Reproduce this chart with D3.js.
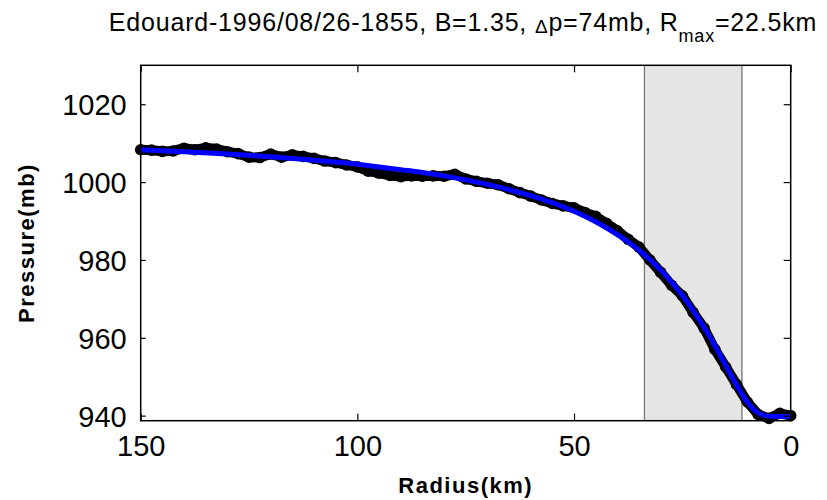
<!DOCTYPE html>
<html>
<head>
    <meta charset="utf-8" />
    <title></title>
    <script src="https://cdn.jsdelivr.net/npm/d3@7"></script>
    <style>
        body { margin: 0; background: #fff; }
        svg text { font-family: "Liberation Sans", Arial, sans-serif; fill: #000; }
    </style>
</head>
<body>
    <svg width="827" height="500"></svg>
    <script>
        var obsRadius = [150, 147.5, 145, 142.5, 140, 137.5, 135, 132.5, 130, 127.5,
            125, 122.5, 120, 117.5, 115, 112.5, 110, 107.5, 105, 102.5,
            100, 97.5, 95, 92.5, 90, 87.5, 85, 82.5, 80, 77.5,
            75, 72.5, 70, 67.5, 65, 62.5, 60, 57.5, 55, 52.5,
            50, 47.5, 45, 42.5, 40, 37.5, 35, 32.5, 30, 27.5,
            25, 22.5, 20, 17.5, 15, 12.5, 10, 7.5, 5, 2.5, 0];
        var obsPressure = [1008.3, 1008.2, 1007.9, 1008.0, 1008.7, 1008.3, 1008.8, 1008.5, 1007.8, 1007.3,
            1006.4, 1006.3, 1007.2, 1006.4, 1007.0, 1006.6, 1006.1, 1005.4, 1005.0, 1004.4,
            1003.9, 1002.8, 1002.3, 1001.7, 1001.4, 1001.6, 1001.5, 1001.6, 1001.5, 1002.0,
            1000.8, 1000.2, 999.7, 999.3, 998.3, 997.3, 996.4, 995.4, 994.5, 993.9,
            993.4, 992.2, 991.2, 989.4, 987.5, 985.3, 983.3, 980.0, 976.8, 973.5,
            970.8, 966.5, 962.5, 957.0, 952.5, 948.0, 943.5, 940.3, 939.3, 940.6, 940.0];

        // fitted profile (blue)
        var fitRadius = [150, 140, 130, 120, 110, 100, 90, 80, 70, 60,
            50, 45, 40, 35, 30, 25, 22.5, 20, 17.5, 15, 12.5, 10, 8, 6, 4, 0];
        var fitPressure = [1008.3, 1007.8, 1007.2, 1006.5, 1005.6, 1004.6, 1003.2, 1001.6, 999.4, 996.5,
            992.5, 989.8, 986.5, 982.5, 977.4, 970.9, 967.0, 962.7, 958.0, 952.9, 947.9, 943.5, 941.1, 940.0, 939.8, 939.8];

        var shadeBand = [33.75, 11.25];
        var xTicks = [150, 100, 50, 0];
        var yTicks = [940, 960, 980, 1000, 1020];

        var mLeft = 140.7, mRight = 790.7, mTop = 65.3, mBottom = 420.7;
        var svg = d3.select('svg');

        var x = d3.scaleLinear().domain([150, 0]).range([mLeft, mRight]);
        var y = d3.scaleLinear().domain([938.7, 1030]).range([mBottom, mTop]);

        // shaded Rmax band
        svg.append('rect')
            .attr('x', x(shadeBand[0]))
            .attr('y', mTop)
            .attr('width', x(shadeBand[1]) - x(shadeBand[0]))
            .attr('height', mBottom - mTop)
            .attr('fill', '#e5e5e5');
        shadeBand.forEach(function (d) {
            svg.append('line')
                .attr('x1', x(d)).attr('x2', x(d))
                .attr('y1', mTop).attr('y2', mBottom)
                .attr('stroke', '#777').attr('stroke-width', 1.3);
        });

        // observed data
        var obs = obsRadius.map(function (r, i) { return [r, obsPressure[i]]; });
        var line = d3.line().x(function (d) { return x(d[0]); }).y(function (d) { return y(d[1]); });
        svg.append('path')
            .datum(obs)
            .attr('d', line)
            .attr('fill', 'none')
            .attr('stroke', '#000')
            .attr('stroke-width', 10)
            .attr('stroke-linejoin', 'round')
            .attr('stroke-linecap', 'round');
        svg.selectAll('circle.obs')
            .data(obs)
            .enter().append('circle')
            .attr('class', 'obs')
            .attr('cx', function (d) { return x(d[0]); })
            .attr('cy', function (d) { return y(d[1]); })
            .attr('r', 5.8)
            .attr('fill', '#000');

        // fitted curve
        var fit = fitRadius.map(function (r, i) { return [r, fitPressure[i]]; });
        svg.append('path')
            .datum(fit)
            .attr('d', d3.line().curve(d3.curveMonotoneX)
                .x(function (d) { return x(d[0]); }).y(function (d) { return y(d[1]); }))
            .attr('fill', 'none')
            .attr('stroke', '#0000ff')
            .attr('stroke-width', 5);

        // axes box with inward ticks
        var fmt = d3.format('d');
        var gx = svg.append('g').attr('transform', 'translate(0,' + mBottom + ')')
            .call(d3.axisBottom(x).tickValues(xTicks).tickFormat(fmt).tickSizeInner(-7).tickSizeOuter(0).tickPadding(14));
        var gxt = svg.append('g').attr('transform', 'translate(0,' + mTop + ')')
            .call(d3.axisTop(x).tickValues(xTicks).tickSizeInner(-7).tickSizeOuter(0).tickFormat(''));
        var gy = svg.append('g').attr('transform', 'translate(' + mLeft + ',0)')
            .call(d3.axisLeft(y).tickValues(yTicks).tickFormat(fmt).tickSizeInner(-5).tickSizeOuter(0).tickPadding(14));
        var gyr = svg.append('g').attr('transform', 'translate(' + mRight + ',0)')
            .call(d3.axisRight(y).tickValues(yTicks).tickSizeInner(-7).tickSizeOuter(0).tickFormat(''));

        [gx, gxt, gy, gyr].forEach(function (g) {
            g.selectAll('.domain').remove();
            g.selectAll('.tick line').attr('stroke', '#000').attr('stroke-width', 1.2);
            g.selectAll('text').attr('font-size', 29).attr('font-family', '"Liberation Sans", Arial, sans-serif');
        });
        gy.selectAll('text').attr('dy', '0.36em');
        gx.selectAll('text').attr('dy', '0.72em');

        svg.append('rect')
            .attr('x', mLeft).attr('y', mTop)
            .attr('width', mRight - mLeft).attr('height', mBottom - mTop)
            .attr('fill', 'none').attr('stroke', '#000').attr('stroke-width', 1.5);

        // labels
        svg.append('text')
            .attr('x', (mLeft + mRight) / 2)
            .attr('y', 493)
            .attr('text-anchor', 'middle')
            .attr('font-size', 22)
            .attr('font-weight', 'bold')
            .attr('letter-spacing', 1.5)
            .text('Radius(km)');

        svg.append('text')
            .attr('transform', 'translate(33.5,' + (mTop + mBottom) / 2 + ') rotate(-90)')
            .attr('text-anchor', 'middle')
            .attr('font-size', 22)
            .attr('font-weight', 'bold')
            .attr('letter-spacing', 1.5)
            .text('Pressure(mb)');

        var title = svg.append('text')
            .attr('x', 463)
            .attr('y', 31)
            .attr('text-anchor', 'middle')
            .attr('font-size', 25)
            .attr('letter-spacing', 0.8);
        title.append('tspan').text('Edouard-1996/08/26-1855, B=1.35, ');
        title.append('tspan').attr('font-size', 19).attr('dy', 2).text('\u0394');
        title.append('tspan').attr('dy', -2).text('p=74mb, R');
        title.append('tspan').attr('font-size', 18).attr('dy', 11).text('max');
        title.append('tspan').attr('dy', -11).text('=22.5km');
    </script>
</body>
</html>
